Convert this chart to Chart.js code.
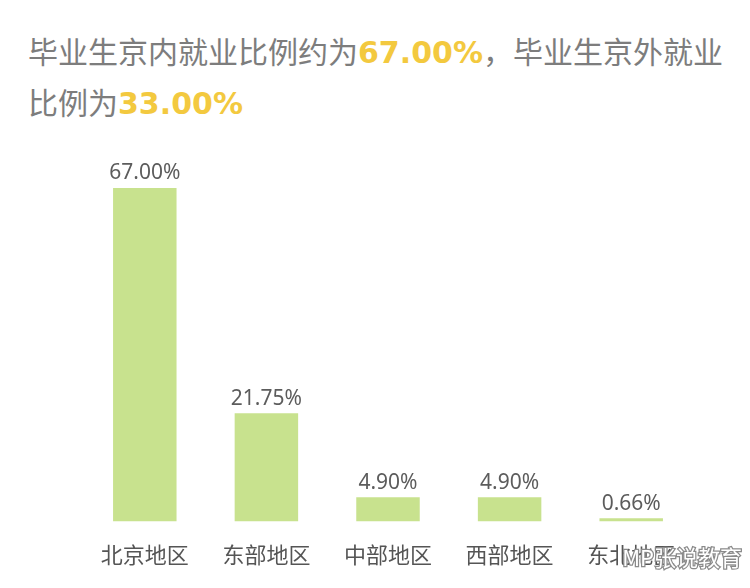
<!DOCTYPE html>
<html>
<head>
<meta charset="utf-8">
<script src="https://cdn.jsdelivr.net/npm/chart.js@4.4.0/dist/chart.umd.min.js"></script>
<style>
  html, body { margin: 0; padding: 0; background: #fff; }
  #wrap { position: relative; width: 750px; height: 588px; overflow: hidden; }
  #title {
    position: absolute; left: 28px; top: 26px; width: 710px;
    font-family: "Noto Sans CJK SC", sans-serif; font-size: 30px;
    line-height: 49px; color: #7d7d7d;
  }
  #title b { color: #f3c93f; font-family: "DejaVu Sans", sans-serif; font-weight: 900; letter-spacing: 0; }
  canvas { position: absolute; left: 0; top: 0; }
</style>
</head>
<body>
<div id="wrap">
  <div id="title">毕业生京内就业比例约为<b>67.00%</b>，毕业生京外就业<br>比例为<b>33.00%</b></div>
  <canvas id="c" width="750" height="588"></canvas>
</div>
<script>
// ===============================
// 📊 DATA
// ===============================
const regions = ["北京地区", "东部地区", "中部地区", "西部地区", "东北地区"];
const shares = [67.00, 21.75, 4.90, 4.90, 0.66];
const shareLabels = ["67.00%", "21.75%", "4.90%", "4.90%", "0.66%"];

// 柱顶数值
const valueLabels = {
  id: "valueLabels",
  afterDatasetsDraw(chart) {
    const ctx = chart.ctx;
    const meta = chart.getDatasetMeta(0);
    ctx.save();
    ctx.font = "21px 'Noto Sans', sans-serif";
    ctx.fillStyle = "#5c5c5c";
    ctx.textAlign = "center";
    ctx.textBaseline = "bottom";
    meta.data.forEach((bar, i) => {
      ctx.fillText(shareLabels[i], bar.x, bar.y - 4);
    });
    ctx.restore();
  }
};

// 水印
const watermark = {
  id: "watermark",
  afterDraw(chart) {
    const ctx = chart.ctx;
    ctx.save();
    ctx.font = "22px 'Noto Sans CJK SC', sans-serif";
    ctx.textAlign = "right";
    ctx.textBaseline = "middle";
    ctx.lineWidth = 2.5;
    ctx.strokeStyle = "#8a8a8a";
    ctx.fillStyle = "#ffffff";
    ctx.strokeText("MP张说教育", 742, 558);
    ctx.fillText("MP张说教育", 742, 558);
    ctx.restore();
  }
};

new Chart(document.getElementById("c"), {
  type: "bar",
  data: {
    labels: regions,
    datasets: [{
      data: shares,
      backgroundColor: "#c8e28e",
      borderWidth: 0,
      barPercentage: 0.6,
      categoryPercentage: 0.87
    }]
  },
  options: {
    responsive: false,
    animation: false,
    layout: { padding: { top: 188, left: 84, right: 58, bottom: 0 } },
    plugins: { legend: { display: false }, tooltip: { enabled: false } },
    scales: {
      x: {
        grid: { display: false, drawTicks: false },
        border: { display: false },
        ticks: {
          color: "#555",
          padding: 20,
          font: { family: "'Noto Sans CJK SC', sans-serif", size: 22 }
        }
      },
      y: {
        display: false,
        min: 0,
        max: 67
      }
    }
  },
  plugins: [valueLabels, watermark]
});
</script>
</body>
</html>
